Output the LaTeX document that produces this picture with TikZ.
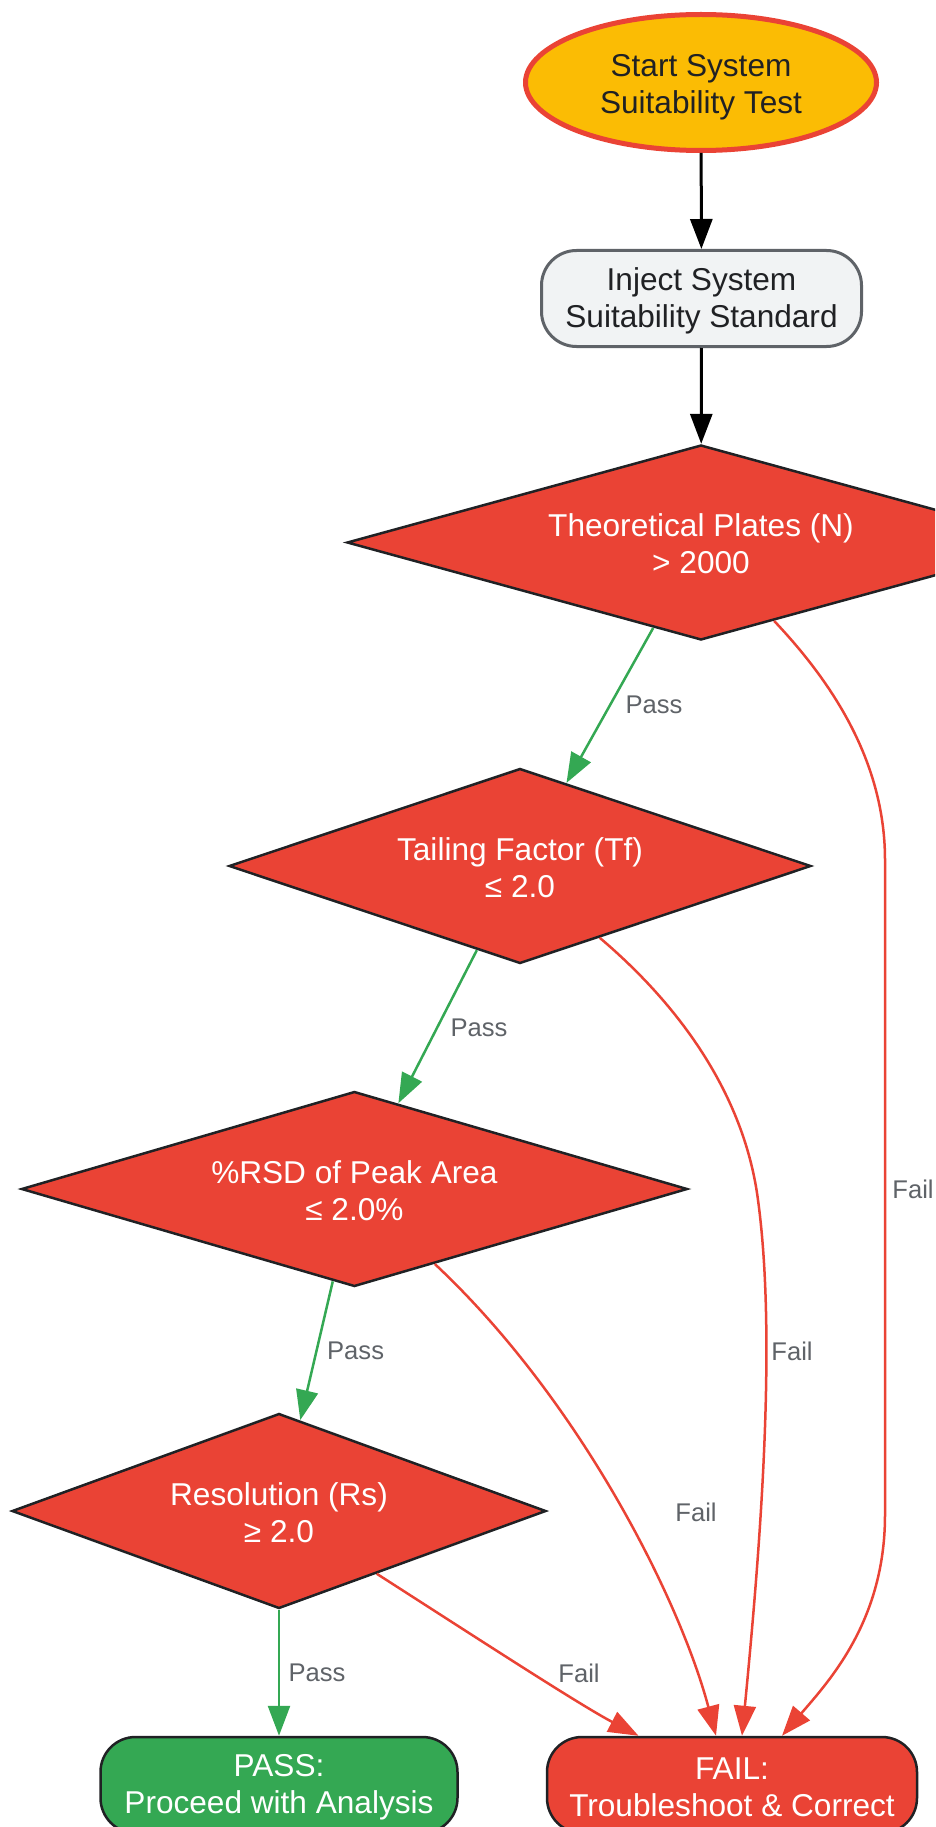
\documentclass[tikz,border=0pt]{standalone}
\usepackage{fontspec}
\setmainfont{Liberation Sans}
\usetikzlibrary{shapes.geometric,arrows.meta}
\definecolor{gyellow}{HTML}{FBBC04}
\definecolor{gred}{HTML}{EA4335}
\definecolor{ggreen}{HTML}{34A853}
\definecolor{glight}{HTML}{F1F3F4}
\definecolor{ggray}{HTML}{5F6368}
\definecolor{gdark}{HTML}{202124}
\newcommand{\tstr}[1]{\rule{0pt}{#1}}
\begin{document}
\begin{tikzpicture}[x=1pt,y=-1pt,
  txt/.style={font=\fontsize{31.6}{37}\selectfont, align=center},
  startnode/.style={ellipse, draw=gred, line width=5pt, fill=gyellow, text=gdark, minimum width=351pt, minimum height=136pt, inner sep=0pt, txt},
  procbox/.style={rectangle, rounded corners=35pt, draw=ggray, line width=3pt, fill=glight, text=gdark, minimum width=320pt, minimum height=96pt, inner sep=0pt, txt},
  decision/.style={diamond, draw=gdark, line width=2.5pt, fill=gred, inner sep=0pt, minimum height=195pt},
  dlabel/.style={text=white, txt},
  endbox/.style={rectangle, rounded corners=35pt, draw=gdark, line width=2.5pt, text=white, minimum height=96pt, inner sep=0pt, txt},
  lbl/.style={text=ggray, font=\fontsize{25.6}{30}\selectfont, inner sep=0pt},
  blackarr/.style={draw=black, line width=3pt, -{Triangle[length=30pt,width=22pt]}},
  passarr/.style={draw=ggreen, line width=2.5pt, -{Triangle[length=30pt,width=22pt]}},
  failarr/.style={draw=gred, line width=2.5pt, -{Triangle[length=30pt,width=22pt]}}
]
\useasboundingbox (0,0) rectangle (935,1827);
\clip (0,0) rectangle (935,1827);

\node[startnode] (start) at (701,82.5) {\tstr{31pt}Start System\\Suitability Test};
\node[procbox] (inject) at (701.5,298.5) {\tstr{28pt}Inject System\\Suitability Standard};
\node[decision, minimum width=708pt, label={[dlabel]center:{\tstr{26pt}Theoretical Plates (N)\\> 2000}}] (d1) at (701,542.5) {};
\node[decision, minimum width=582pt, label={[dlabel]center:{\tstr{26pt}Tailing Factor (Tf)\\≤ 2.0}}] (d2) at (520,866) {};
\node[decision, minimum width=666pt, label={[dlabel]center:{\tstr{26pt}\%RSD of Peak Area\\≤ 2.0\%}}] (d3) at (354.4,1189) {};
\node[decision, minimum width=534pt, label={[dlabel]center:{\tstr{26pt}Resolution (Rs)\\≥ 2.0}}] (d4) at (279,1511) {};
\node[endbox, fill=ggreen, minimum width=357pt] (pass) at (279,1785) {\tstr{26pt}PASS:\\Proceed with Analysis};
\node[endbox, fill=gred, minimum width=370pt] (fail) at (732,1785) {\tstr{26pt}FAIL:\\Troubleshoot \& Correct};

\draw[blackarr] (start) -- (inject);
\draw[blackarr] (inject) -- (d1);

\draw[passarr] (d1) -- (d2) node[lbl] at (654,705) {Pass};
\draw[passarr] (d2) -- (d3) node[lbl] at (479,1028) {Pass};
\draw[passarr] (d3) -- (d4) node[lbl] at (355.6,1351) {Pass};
\draw[passarr] (d4) -- (pass) node[lbl] at (317,1673) {Pass};

\draw[failarr] (d1.-47) .. controls (830,680) and (885,760) .. (885,860) -- (885,1515) .. controls (885,1620) and (830,1680) .. ([xshift=50pt]fail.north)
  node[lbl] at (913,1189) {Fail};
\draw[failarr] (d2.-42) .. controls (685,1010) and (745,1100) .. (758,1200) .. controls (777,1340) and (760,1550) .. ([xshift=10pt]fail.north)
  node[lbl] at (792,1351) {Fail};
\draw[failarr] (d3.-43) .. controls (580,1400) and (680,1600) .. ([xshift=-16pt]fail.north)
  node[lbl] at (696,1512) {Fail};
\draw[failarr] (d4) .. controls (480,1640) and (580,1705) .. ([xshift=-93.5pt]fail.north)
  node[lbl] at (579,1673) {Fail};
\end{tikzpicture}
\end{document}
